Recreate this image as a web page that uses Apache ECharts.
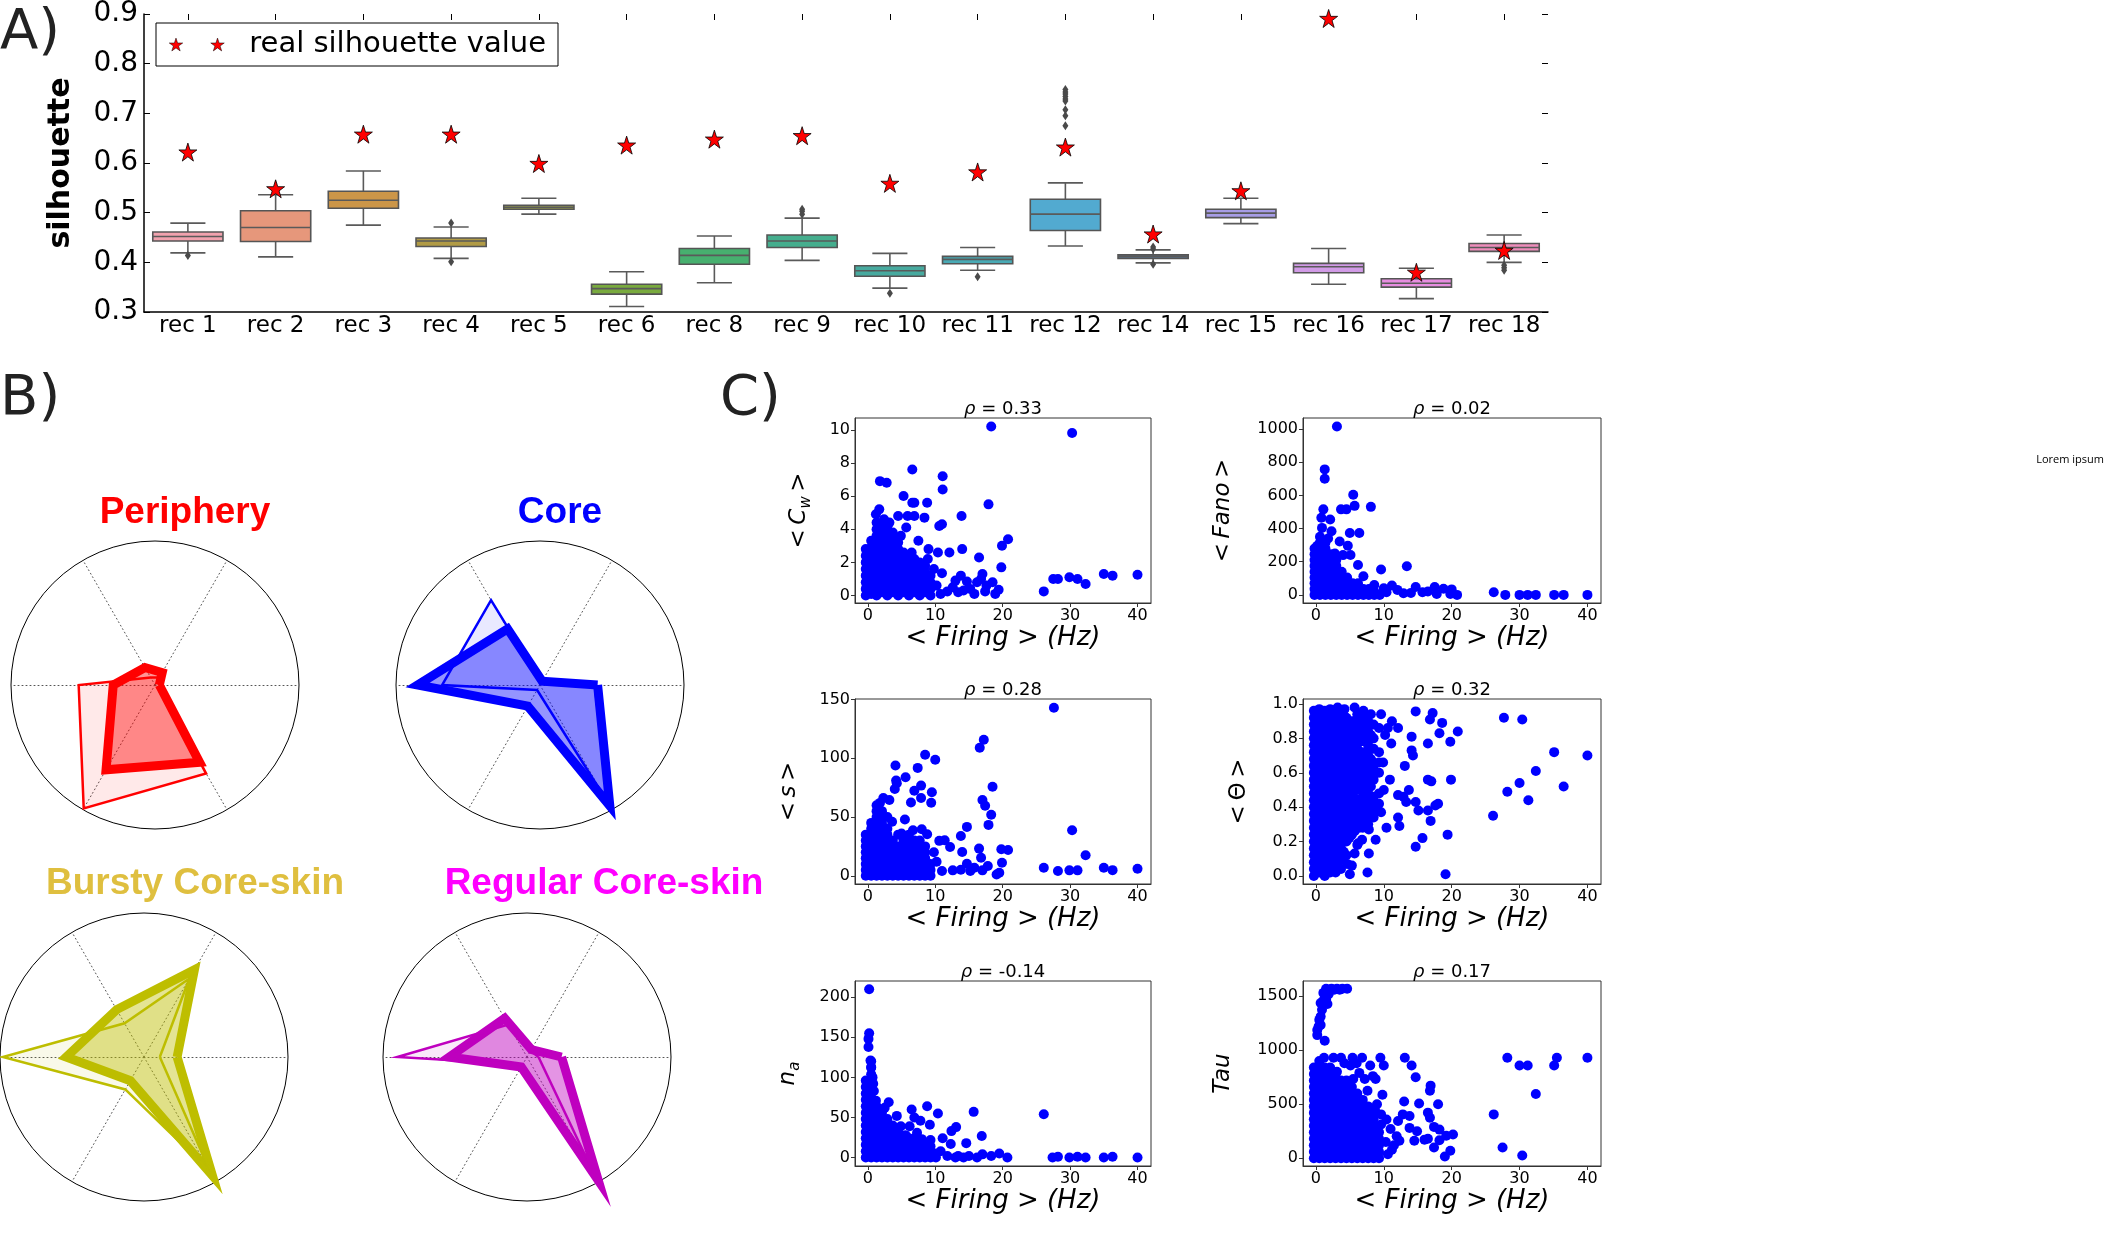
<!DOCTYPE html>
<html>
<head>
<meta charset="utf-8">
<script src="https://cdn.jsdelivr.net/npm/echarts@6/dist/echarts.min.js"></script>
<style>
  html, body { margin: 0; padding: 0; background: #fff; }
  #chart { width: 2106px; height: 1247px; }
</style>
</head>
<body>
<div id="chart"></div>
<script>
// ---- panel A: silhouette boxplots ----
const recNames = ['rec 1','rec 2','rec 3','rec 4','rec 5','rec 6','rec 8','rec 9','rec 10','rec 11','rec 12','rec 14','rec 15','rec 16','rec 17','rec 18'];
const boxLow  = [0.419,0.411,0.475,0.408,0.497,0.311,0.359,0.404,0.348,0.384,0.433,0.399,0.478,0.356,0.327,0.400];
const boxQ1   = [0.443,0.442,0.509,0.432,0.507,0.336,0.396,0.430,0.372,0.397,0.464,0.408,0.490,0.379,0.350,0.422];
const boxMed  = [0.452,0.470,0.525,0.443,0.511,0.347,0.414,0.443,0.383,0.406,0.497,0.412,0.499,0.391,0.358,0.430];
const boxQ3   = [0.461,0.504,0.543,0.449,0.515,0.356,0.428,0.455,0.393,0.412,0.527,0.415,0.507,0.398,0.367,0.438];
const boxHigh = [0.479,0.536,0.584,0.471,0.529,0.381,0.453,0.489,0.418,0.430,0.560,0.425,0.529,0.428,0.388,0.455];
const realSil = [0.622,0.548,0.658,0.658,0.599,0.636,0.648,0.655,0.559,0.582,0.632,0.457,0.544,0.891,0.380,0.424];
const boxOutliers = [[0,0.414],[3,0.479],[3,0.401],[7,0.507],[7,0.503],[7,0.497],[8,0.338],[9,0.371],
  [10,0.748],[10,0.743],[10,0.739],[10,0.734],[10,0.729],[10,0.725],[10,0.707],[10,0.695],[10,0.675],
  [11,0.431],[11,0.427],[11,0.396],[15,0.394],[15,0.389],[15,0.384]];
const boxColors = ['#f1a2ae','#e6977b','#cc9648','#b19b45','#9da34a','#79aa3e','#47b06f','#45ae8e',
  '#47aa9f','#49aab5','#52aad0','#5b7ca2','#a79de6','#d19be6','#e78de0','#ee8dbb'];

// ---- panel B: radar profiles, axes at 0,60,120,180,240,300 deg ----
const radarTitles = ['Periphery','Core','Bursty Core-skin','Regular Core-skin'];
const radarThick = [
  [0.03,0.10,0.14,0.29,0.68,0.62],
  [0.40,0.03,0.45,0.85,0.17,0.97],
  [0.23,0.70,0.38,0.54,0.19,0.95],
  [0.24,0.06,0.31,0.54,0.08,0.99]
];
const radarThin = [
  [0.03,0.06,0.06,0.53,0.99,0.71],
  [0.38,0.02,0.68,0.68,0.04,0.95],
  [0.11,0.63,0.27,0.98,0.26,0.92],
  [0.08,0.05,0.26,0.90,0.06,0.90]
];

// ---- panel C: scatter plots vs firing rate ----
const rhoLabels = ['0.33','0.02','0.28','0.32','-0.14','0.17'];

// dense parts as [x, [y values]] columns, plus single points
const cwDense = [[-0.3,[0,0.4,0.8,1.2,1.6,2.0,2.4,2.8]],[0.5,[0.1,0.5,0.9,1.3,1.7,2.1,2.5,2.9,3.3]],
  [1.3,[0,0.4,0.8,1.2,1.6,2.0,2.4,2.8,3.2,3.6,4.0,4.4]],[2.1,[0.2,0.6,1.0,1.4,1.8,2.2,2.6,3.0,3.4,3.8,4.2]],
  [2.9,[0,0.4,0.8,1.2,1.6,2.0,2.4,2.8,3.2,3.6,4.0]],[3.7,[0.2,0.6,1.0,1.4,1.8,2.2,2.6,3.0,3.4,3.8]],
  [4.5,[0,0.4,0.8,1.2,1.6,2.0,2.4,2.8,3.2]],[5.3,[0.2,0.6,1.0,1.4,1.8,2.2,2.6]],
  [6.1,[0,0.4,0.8,1.2,1.6,2.0,2.4]],[6.9,[0.2,0.6,1.0,1.4,1.8,2.2]],[7.7,[0,0.4,0.8,1.2,1.6,2.0]],
  [8.5,[0.2,0.6,1.0,1.4,1.8]],[9.3,[0,0.4,0.8,1.2]]];
const cwPoints = [[18.3,10.2],[30.3,9.8],[6.6,7.6],[1.8,6.9],[2.8,6.8],[11.1,7.2],[11.1,6.4],[5.3,6.0],[6.6,5.6],
  [6.9,5.6],[8.8,5.6],[1.7,5.2],[1.2,4.9],[17.9,5.5],[4.5,4.8],[5.9,4.8],[6.9,4.8],[8.4,4.7],[13.9,4.8],[10.6,4.2],
  [11.0,4.3],[5.7,4.1],[7.5,3.3],[20.8,3.4],[19.9,3.0],[9.0,2.8],[14.0,2.8],[10.4,2.6],[12.1,2.6],[16.5,2.3],
  [19.8,1.7],[11.0,1.35],[13.8,1.2],[17.0,1.3],[13.0,0.9],[14.7,0.85],[16.2,0.8],[18.5,0.8],[19.4,0.35],[18.9,0.1],
  [17.4,0.25],[26.1,0.25],[27.5,1.0],[28.2,1.0],[29.9,1.1],[31.1,1.0],[32.3,0.7],[35.0,1.3],[36.3,1.2],[40.0,1.25],
  [11.8,0.25],[13.4,0.2],[15.8,0.1],[15.2,0.4],[12.6,0.5],[10.2,0.6],[10.8,0.1],[9.8,1.6],[16.8,1.0],[17.6,0.6],
  [14.2,0.3],[8.9,2.2],[6.5,2.6],[4.9,3.6],[3.2,4.4],[2.4,4.6]];

const fanoDense = [[-0.2,[0,35,70,105,140,175,210,245,280]],[0.6,[0,35,70,105,140,175,210,245,280,315,350]],
  [1.4,[0,35,70,105,140,175,210,245,280,315]],[2.2,[0,35,70,105,140,175,210,245]],[3.0,[0,35,70,105,140,175,210]],
  [3.8,[0,35,70,105,140]],[4.6,[0,35,70,105]],[5.4,[0,35,70]],[6.2,[0,35,70]],[7.0,[0,35]],[7.8,[0,35]],
  [8.6,[0,20]],[9.4,[0]]];
const fanoPoints = [[3.1,1016],[1.3,757],[1.3,700],[5.5,604],[5.7,537],[8.1,531],[3.7,516],[4.5,516],[1.1,516],
  [0.8,465],[2.1,455],[0.9,404],[2.3,384],[5.0,373],[6.4,373],[3.5,322],[4.7,296],[0.2,296],[5.1,241],[6.2,180],
  [9.6,153],[13.4,173],[7.0,112],[11.2,57],[14.7,47],[17.5,47],[18.8,37],[20.0,33],[20.8,0],[26.2,16],[27.9,0],
  [30.0,0],[31.2,0],[32.4,0],[35.1,0],[36.5,0],[40.0,0],[10.4,16],[12.9,10],[15.7,16],[17.8,6],[19.8,6],[2.8,250],
  [1.8,340],[4.0,240],[8.6,60],[10.0,40],[12.0,30],[14.0,12],[16.5,20]];

const sDense = [[-0.3,[0,5,10,15,20,25,30,35]],[0.5,[0,5,10,15,20,25,30,35,40,45]],
  [1.3,[0,5,10,15,20,25,30,35,40,45,50,55,60]],[2.1,[0,5,10,15,20,25,30,35,40,45,50,55]],
  [2.9,[0,5,10,15,20,25,30,35,40,50]],[3.7,[0,5,10,15,20,25,30]],[4.5,[0,5,10,15,20,25,35]],
  [5.3,[0,5,10,15,20,25,30]],[6.1,[0,5,10,15,20,25,30,35]],[6.9,[0,5,10,15,20,25,30]],
  [7.7,[0,5,10,15,20,25,30]],[8.5,[0,5,10,15,20,25]],[9.3,[0,5,10]]];
const sPoints = [[27.6,142.9],[17.2,115.8],[16.6,108.9],[8.5,102.9],[10.0,98.7],[4.1,93.8],[7.4,91.8],[5.6,83.8],
  [4.2,81.0],[4.3,78.7],[18.5,75.8],[7.9,76.7],[6.9,72.4],[9.5,71.0],[4.0,73.9],[7.9,66.2],[17.0,64.4],[6.4,62.4],
  [9.4,62.2],[17.4,59.6],[2.3,66.2],[3.2,64.4],[5.5,47.9],[18.3,51.9],[17.9,43.3],[14.7,41.6],[13.8,33.9],[30.3,38.8],
  [8.0,39.6],[6.7,38.8],[8.8,35.4],[10.6,29.7],[11.4,30.2],[12.2,24.5],[14.0,20.2],[16.5,23.1],[19.8,22.5],[20.8,22.0],
  [16.8,15.4],[19.9,11.1],[32.3,17.4],[19.5,2.6],[19.1,1.1],[14.7,10.3],[15.8,6.8],[17.8,8.3],[26.1,6.8],[28.2,4.0],
  [29.9,4.6],[31.1,4.6],[35.0,6.8],[36.3,4.8],[40.0,6.0],[11.0,4.0],[12.6,4.6],[13.8,5.1],[15.2,4.0],[17.0,4.6],
  [10.2,12],[9.8,20],[5.0,36],[3.6,46],[1.8,62]];

const thetaDense = [
  [-0.3,[0,.04,.08,.12,.16,.2,.24,.28,.32,.36,.4,.44,.48,.52,.56,.6,.64,.68,.72,.76,.8,.84,.88,.92,.96]],
  [0.5,[.02,.06,.1,.14,.18,.22,.26,.3,.34,.38,.42,.46,.5,.54,.58,.62,.66,.7,.74,.78,.82,.86,.9,.94,.97]],
  [1.3,[0,.04,.08,.12,.16,.2,.24,.28,.32,.36,.4,.44,.48,.52,.56,.6,.64,.68,.72,.76,.8,.84,.88,.92,.96]],
  [2.1,[.02,.06,.1,.14,.18,.22,.26,.3,.34,.38,.42,.46,.5,.54,.58,.62,.66,.7,.74,.78,.82,.86,.9,.94,.97]],
  [2.9,[.02,.06,.1,.14,.18,.22,.26,.3,.34,.38,.42,.46,.5,.54,.58,.62,.66,.7,.74,.78,.82,.86,.9,.94]],
  [3.3,[.08,.14,.2,.26,.32,.38,.44,.5,.56,.62,.68,.74,.8,.86,.92]],
  [3.7,[.1,.16,.22,.28,.34,.4,.46,.52,.58,.64,.7,.76,.82,.88,.94]],
  [4.1,[.14,.24,.3,.36,.42,.48,.54,.6,.66,.72,.78,.84,.9]],
  [4.5,[.12,.2,.26,.32,.38,.44,.5,.56,.62,.68,.74,.8,.86,.92]],
  [4.9,[.22,.28,.34,.4,.46,.52,.58,.64,.7,.76,.82,.88]],
  [5.3,[.06,.24,.3,.36,.42,.48,.54,.6,.66,.72,.78,.84,.9]],
  [5.7,[.26,.32,.38,.45,.52,.58,.64,.7,.76,.82,.9]],
  [6.1,[.18,.3,.36,.42,.5,.56,.62,.68,.74,.8,.88,.94]],
  [6.5,[.32,.38,.44,.54,.6,.66,.72,.78,.84]],
  [6.9,[.28,.34,.4,.46,.52,.6,.66,.72,.8,.86,.92]],
  [7.3,[.32,.4,.5,.58,.64,.7,.78,.88]],
  [7.7,[.3,.36,.42,.48,.56,.62,.7,.76,.84,.9]],
  [8.1,[.38,.44,.52,.6,.68,.74,.82]],
  [8.5,[.34,.4,.46,.56,.62,.66,.74,.8,.88]],
  [9.3,[.42,.48,.6,.66,.72,.86]]];
const thetaPoints = [[5.7,0.98],[14.7,0.957],[17.2,0.947],[27.7,0.92],[30.4,0.91],[9.6,0.94],[11.2,0.90],[12.1,0.86],
  [18.6,0.89],[16.8,0.91],[18.2,0.83],[20.9,0.84],[14.1,0.81],[16.5,0.77],[19.8,0.78],[11.1,0.77],[14.1,0.73],
  [14.3,0.70],[35.1,0.72],[40.0,0.70],[32.4,0.61],[13.1,0.64],[16.5,0.56],[17.0,0.55],[19.9,0.56],[10.9,0.56],
  [30.0,0.54],[28.2,0.49],[36.5,0.52],[31.3,0.44],[13.7,0.50],[12.1,0.47],[12.9,0.46],[13.3,0.43],[14.7,0.43],
  [15.1,0.38],[16.5,0.38],[17.6,0.41],[18.0,0.42],[26.1,0.35],[16.9,0.32],[12.1,0.34],[10.4,0.28],[12.3,0.29],
  [19.4,0.24],[15.7,0.22],[14.7,0.17],[19.1,0.01],[7.6,0.02],[5.0,0.01],[8.8,0.21],[6.8,0.21],[6.2,0.19],[7.8,0.13],
  [5.7,0.13],[3.9,0.20],[4.6,0.07],[3.7,0.04],[6.4,0.28],[7.8,0.27],[8.8,0.38],[9.6,0.37],[10.0,0.50],[9.9,0.66],
  [10.2,0.82],[10.6,0.86],[8.1,0.94],[7.0,0.96],[4.2,0.97],[3.2,0.98]];

const naDense = [[-0.3,[0,8,16,24,32,40,48,56,64,72,80,88,96]],[0.5,[0,8,16,24,32,40,48,56,64,72,80,88,96,104,112,120]],
  [1.3,[0,8,16,24,32,40,48,56,64]],[2.1,[0,8,16,24,32,40,48,56]],[2.9,[0,8,16,24,32,40,48]],[3.7,[0,8,16,24,32,40]],
  [4.5,[0,8,16,24,32]],[5.3,[0,8,16,24]],[6.1,[0,8,16,24]],[6.9,[0,8,16,24]],[7.7,[0,8,16]],[8.5,[0,8,16]],
  [9.3,[0,8]],[10.1,[0,5]]];
const naPoints = [[0.2,210],[0.2,155],[0.1,148],[0.1,138],[0.4,121],[0.5,113],[0.7,100],[0.8,92],[0.9,83],[1.2,71],
  [3.1,69],[6.5,60],[8.8,64],[10.4,55],[15.7,57],[26.1,54],[4.3,52],[6.9,50],[7.8,46],[6.2,39],[4.9,39],[9.2,41],
  [13.1,38],[12.4,33],[14.6,18],[16.9,27],[11.1,24],[12.3,17],[7.3,31],[9.3,22],[9.3,14],[3.7,27],[11.8,2],[13.4,2],
  [15.0,2],[17.0,4],[18.3,2],[19.5,5],[20.7,0],[27.4,0],[28.2,1],[29.9,0],[31.1,1],[32.3,0],[35.0,0],[36.3,1],
  [40.0,0],[13.0,0],[14.2,0],[16.2,0],[10.8,8],[8.0,23],[5.6,28],[2.5,62]];

const tauDense = [
  [-0.3,[0,60,120,180,240,300,360,420,480,540,600,660,720,780,840]],
  [0.5,[0,60,120,180,240,300,360,420,480,540,600,660,720,780,840,900]],
  [1.3,[0,60,120,180,240,300,360,420,480,540,600,660,720,780,840]],
  [2.1,[0,60,120,180,240,300,360,420,480,540,600,660,720,780,840]],
  [2.9,[0,60,120,180,240,300,360,420,480,540,600,660,720,780]],
  [3.7,[0,60,120,180,240,300,360,420,480,540,600,660,720]],
  [4.5,[0,60,120,180,240,300,360,420,480,540,600,660,720]],
  [5.3,[0,60,120,180,240,300,360,420,480,540,600,660]],
  [6.1,[0,60,120,180,240,300,360,420,480,540,600]],
  [6.9,[0,60,120,180,240,300,360,420,480,540]],
  [7.7,[0,60,120,180,240,300,360,420,480]],
  [8.5,[0,60,120,180,240,300,360,420]],
  [9.3,[0,60,120,180,240]]];
const tauPoints = [[0.2,1140],[0.7,1312],[0.7,1234],[1.3,1087],[0.9,1375],[1.5,1469],[1.9,1522],[2.3,1569],[3.1,1569],
  [3.9,1569],[4.6,1569],[1.5,1569],[1.1,1531],[0.7,1437],[0.5,1281],[0.2,1187],[1.7,1428],[1.6,1500],[2.7,1560],
  [3.5,1560],[1.9,1560],[1.1,1460],[0.4,1220],
  [3.7,931],[5.4,931],[6.8,931],[9.5,931],[13.1,931],[28.2,931],[35.5,931],[40.0,931],[30.0,859],[31.2,859],[35.1,859],
  [14.1,859],[8.0,859],[10.0,859],[5.1,859],[14.7,750],[8.8,734],[7.2,734],[5.5,734],[16.9,672],[16.8,625],[32.4,594],
  [9.8,587],[7.6,625],[13.0,525],[15.2,506],[18.0,500],[12.8,406],[13.8,391],[26.2,406],[16.5,422],[16.8,375],
  [10.4,359],[12.1,344],[9.6,312],[9.6,406],[17.4,290],[18.2,265],[20.2,219],[19.2,209],[18.2,166],[16.5,181],
  [14.5,162],[16.0,172],[11.9,203],[12.3,162],[13.8,281],[14.9,250],[17.4,100],[27.5,100],[19.8,69],[19.0,16],
  [30.4,25],[10.6,37],[11.2,78],[4.2,880],[6.0,880],[2.6,930],[1.2,930],[8.4,760],[3.1,800],[6.4,790],[9.0,500],
  [8.7,450],[11.0,270],[10.3,150],[11.5,120]];

function expand(cols, pts) {
  const out = [];
  cols.forEach(function (c) { c[1].forEach(function (y) { out.push([c[0], y]); }); });
  return out.concat(pts);
}

const STAR = 'path://M7,0L8.572,4.837L13.657,4.837L9.543,7.826L11.114,12.663L7,9.674L2.886,12.663L4.457,7.826L0.343,4.837L5.428,4.837Z';
const TWO_STARS = 'path://M7,0L8.572,4.837L13.657,4.837L9.543,7.826L11.114,12.663L7,9.674L2.886,12.663L4.457,7.826L0.343,4.837L5.428,4.837Z' +
  'M48,0L49.572,4.837L54.657,4.837L50.543,7.826L52.114,12.663L48,9.674L43.886,12.663L45.457,7.826L41.343,4.837L46.428,4.837Z';

let myChart = echarts.init(document.getElementById('chart'));

function renderBox(params, api) {
  const i = api.value(0);
  const pLow = api.coord([i, api.value(1)]);
  const pQ1 = api.coord([i, api.value(2)]);
  const pMed = api.coord([i, api.value(3)]);
  const pQ3 = api.coord([i, api.value(4)]);
  const pHigh = api.coord([i, api.value(5)]);
  const bw = api.size([1, 0])[0] * 0.8;
  const cx = pMed[0];
  function ln(x1, y1, x2, y2) {
    return {type: 'line', shape: {x1: x1, y1: y1, x2: x2, y2: y2}, style: {stroke: '#5a5a5a', lineWidth: 1.6}};
  }
  return {type: 'group', children: [
    ln(cx, pLow[1], cx, pQ1[1]),
    ln(cx, pQ3[1], cx, pHigh[1]),
    ln(cx - bw / 4, pLow[1], cx + bw / 4, pLow[1]),
    ln(cx - bw / 4, pHigh[1], cx + bw / 4, pHigh[1]),
    {type: 'rect', shape: {x: cx - bw / 2, y: pQ3[1], width: bw, height: pQ1[1] - pQ3[1]},
      style: {fill: boxColors[params.dataIndex], stroke: '#555', lineWidth: 1.6}},
    ln(cx - bw / 2, pMed[1], cx + bw / 2, pMed[1])
  ]};
}

// scatter grids (frames) and axes
const scGrids = [
  {left: 855, top: 418}, {left: 1303, top: 418},
  {left: 855, top: 699}, {left: 1303, top: 699},
  {left: 855, top: 981}, {left: 1303, top: 981}
];
const scYMin = [-0.45, -49, -7, -0.047, -10.5, -72];
const scYMax = [10.71, 1067, 150.4, 1.029, 220.2, 1641];
const scYTicks = [[0,2,4,6,8,10],[0,200,400,600,800,1000],[0,50,100,150],[0,0.2,0.4,0.6,0.8,1.0],[0,50,100,150,200],[0,500,1000,1500]];
const scYNames = ['<\u2009C{w|w}\u2009>', '<\u2009Fano\u2009>', '<\u2009s\u2009>', '<\u2009{t|Θ}\u2009>', 'n{w|a}', 'Tau'];
const scNameGap = [41, 68, 54, 52, 52, 68];
const scData = [expand(cwDense, cwPoints), expand(fanoDense, fanoPoints), expand(sDense, sPoints),
  expand(thetaDense, thetaPoints), expand(naDense, naPoints), expand(tauDense, tauPoints)];

const grids = [{left: 144, top: 11, width: 1404, height: 301}];
const xAxes = [
  {type: 'category', gridIndex: 0, data: recNames, boundaryGap: true,
    axisLine: {lineStyle: {color: '#000', width: 1.5}},
    axisTick: {inside: true, alignWithLabel: true, length: 6, lineStyle: {color: '#000'}},
    axisLabel: {color: '#000', fontSize: 23, margin: 3, interval: 0}},
  {type: 'category', gridIndex: 0, position: 'top', data: recNames, boundaryGap: true,
    axisLine: {show: false}, axisLabel: {show: false},
    axisTick: {show: true, inside: true, alignWithLabel: true, interval: 0, length: 6, lineStyle: {color: '#000'}}}
];
const yAxes = [
  {type: 'value', gridIndex: 0, min: 0.3, max: 0.9, interval: 0.1,
    name: 'silhouette', nameLocation: 'middle', nameGap: 68, nameRotate: 90,
    nameTextStyle: {fontSize: 30, fontWeight: 'bold', color: '#000'},
    axisLine: {show: true, lineStyle: {color: '#000', width: 1.5}},
    axisTick: {show: true, inside: true, length: 6, lineStyle: {color: '#000'}},
    axisLabel: {color: '#000', fontSize: 28, margin: 6, formatter: function (v) { return v.toFixed(1); }},
    splitLine: {show: false}},
  {type: 'value', gridIndex: 0, position: 'right', min: 0.3, max: 0.9, interval: 0.1,
    axisLine: {show: false}, axisLabel: {show: false}, splitLine: {show: false},
    axisTick: {show: true, inside: true, length: 6, lineStyle: {color: '#000'}}}
];

const series = [
  {type: 'custom', name: 'boxes', xAxisIndex: 0, yAxisIndex: 0, renderItem: renderBox,
    encode: {x: 0, y: [1, 2, 3, 4, 5]}, z: 2,
    data: recNames.map(function (n, i) { return [i, boxLow[i], boxQ1[i], boxMed[i], boxQ3[i], boxHigh[i]]; })},
  {type: 'scatter', name: 'outliers', xAxisIndex: 0, yAxisIndex: 0, symbol: 'diamond', symbolSize: [6, 9],
    itemStyle: {color: '#4a4a4a', opacity: 1}, z: 3, data: boxOutliers},
  {type: 'scatter', name: 'real silhouette value', xAxisIndex: 0, yAxisIndex: 0, symbol: STAR, symbolSize: 18,
    itemStyle: {color: '#ff0000', borderColor: '#000', borderWidth: 0.8, opacity: 1}, z: 4,
    data: realSil.map(function (v, i) { return [i, v]; })}
];

scGrids.forEach(function (g, k) {
  const ax = k + 2; // axes 0 and 1 belong to panel A
  grids.push({left: g.left, top: g.top, width: k % 2 ? 298 : 296, height: 185,
    show: true, borderColor: '#333', borderWidth: 1});
  xAxes.push({type: 'value', gridIndex: k + 1, min: -1.9, max: 42,
    name: '< Firing > (Hz)', nameLocation: 'middle', nameGap: 16,
    nameTextStyle: {fontSize: 26, fontStyle: 'italic', color: '#000'},
    axisLine: {onZero: false, lineStyle: {color: '#333'}},
    axisTick: {length: 4, lineStyle: {color: '#333'}, customValues: [0, 10, 20, 30, 40]},
    axisLabel: {fontSize: 16, color: '#000', margin: 5, customValues: [0, 10, 20, 30, 40]},
    splitLine: {show: false}});
  yAxes.push({type: 'value', gridIndex: k + 1, min: scYMin[k], max: scYMax[k],
    name: scYNames[k], nameLocation: 'middle', nameGap: scNameGap[k], nameRotate: 90,
    nameTextStyle: {fontSize: 23, fontStyle: 'italic', color: '#000',
      rich: {w: {fontSize: 15, fontStyle: 'italic', color: '#000', padding: [14, 0, 0, 0]},
             t: {fontSize: 23, fontStyle: 'normal', color: '#000'}}},
    axisLine: {onZero: false, lineStyle: {color: '#333'}},
    axisTick: {length: 4, lineStyle: {color: '#333'}, customValues: scYTicks[k]},
    axisLabel: {fontSize: 16, color: '#000', margin: 5, customValues: scYTicks[k],
      formatter: k === 3 ? function (v) { return v.toFixed(1); } : function (v) { return String(v); }},
    splitLine: {show: false}});
  series.push({type: 'scatter', xAxisIndex: ax, yAxisIndex: ax, symbolSize: 10,
    itemStyle: {color: '#0000ff', opacity: 1}, data: scData[k]});
});

// radar layout
const radarCenters = [[155, 685], [540, 685], [144, 1057], [527, 1057]];
const radarColors = [[255, 0, 0], [0, 0, 255], [190, 190, 0], [191, 0, 191]];
const indicator = [0, 1, 2, 3, 4, 5].map(function () { return {name: '', min: 0, max: 1}; });
const radars = radarCenters.map(function (c) {
  return {center: c, radius: 144, startAngle: 0, shape: 'circle', splitNumber: 1, indicator: indicator,
    axisName: {show: false},
    axisLine: {lineStyle: {color: '#555', type: [1, 3], width: 1}},
    splitLine: {lineStyle: {color: '#000', width: 1}},
    splitArea: {show: false}};
});
radarCenters.forEach(function (c, k) {
  const rgb = radarColors[k].join(',');
  series.push({type: 'radar', radarIndex: k, symbol: 'none', silent: true,
    data: [
      {value: radarThick[k], lineStyle: {color: 'rgb(' + rgb + ')', width: 9, join: 'miter', miterLimit: 10},
        areaStyle: {color: 'rgba(' + rgb + ',0.6)'}},
      {value: radarThin[k], lineStyle: {color: 'rgb(' + rgb + ')', width: 2.5, join: 'miter', miterLimit: 10},
        areaStyle: {color: 'rgba(' + rgb + ',0.12)'}}
    ]});
});

// text labels
const radarTitlePos = [[185, 513], [560, 513], [195, 884], [604, 884]];
const radarTitleColors = ['#ff0000', '#0000ff', '#dfbf3f', '#ff00ff'];
const graphics = [
  {type: 'text', x: 0, y: 33, style: {text: 'A)', fontSize: 56, fill: '#222', verticalAlign: 'middle', fontFamily: 'DejaVu Sans'}},
  {type: 'text', x: 0, y: 399, style: {text: 'B)', fontSize: 56, fill: '#222', verticalAlign: 'middle', fontFamily: 'DejaVu Sans'}},
  {type: 'text', x: 720, y: 399, style: {text: 'C)', fontSize: 56, fill: '#222', verticalAlign: 'middle', fontFamily: 'DejaVu Sans'}},
  {type: 'text', x: 2104, y: 460, style: {text: 'Lorem ipsum', fontSize: 11, fill: '#000', align: 'right', verticalAlign: 'middle', fontFamily: 'Open Sans'}}
];
radarTitles.forEach(function (t, k) {
  graphics.push({type: 'text', x: radarTitlePos[k][0], y: radarTitlePos[k][1],
    style: {text: t, fontSize: 37, fontWeight: 'bold', fontFamily: 'Liberation Sans', fill: radarTitleColors[k],
      align: 'center', verticalAlign: 'middle'}});
});
const rhoY = [409, 409, 690, 690, 972, 972];
rhoLabels.forEach(function (r, k) {
  const g = scGrids[k];
  graphics.push({type: 'text', x: g.left + (k % 2 ? 149 : 148), y: rhoY[k],
    style: {text: '{r|ρ} = ' + r, fontSize: 18, fill: '#000', align: 'center', verticalAlign: 'middle',
      fontFamily: 'DejaVu Sans', rich: {r: {fontSize: 18, fontStyle: 'italic', fill: '#000', fontFamily: 'DejaVu Sans'}}}});
});

let option = {
  animation: false,
  backgroundColor: '#fff',
  textStyle: {fontFamily: 'DejaVu Sans'},
  legend: {
    data: ['real silhouette value'], left: 156, top: 23, orient: 'horizontal',
    icon: TWO_STARS, itemWidth: 55, itemHeight: 15,
    itemStyle: {borderWidth: 0.5, borderColor: '#000', color: '#ff0000'},
    borderColor: '#000', borderWidth: 1, padding: [7, 12, 7, 13],
    textStyle: {fontSize: 29, color: '#000', padding: [0, 0, 0, 20]}
  },
  grid: grids,
  xAxis: xAxes,
  yAxis: yAxes,
  radar: radars,
  series: series,
  graphic: graphics
};
myChart.setOption(option);
</script>
</body>
</html>
